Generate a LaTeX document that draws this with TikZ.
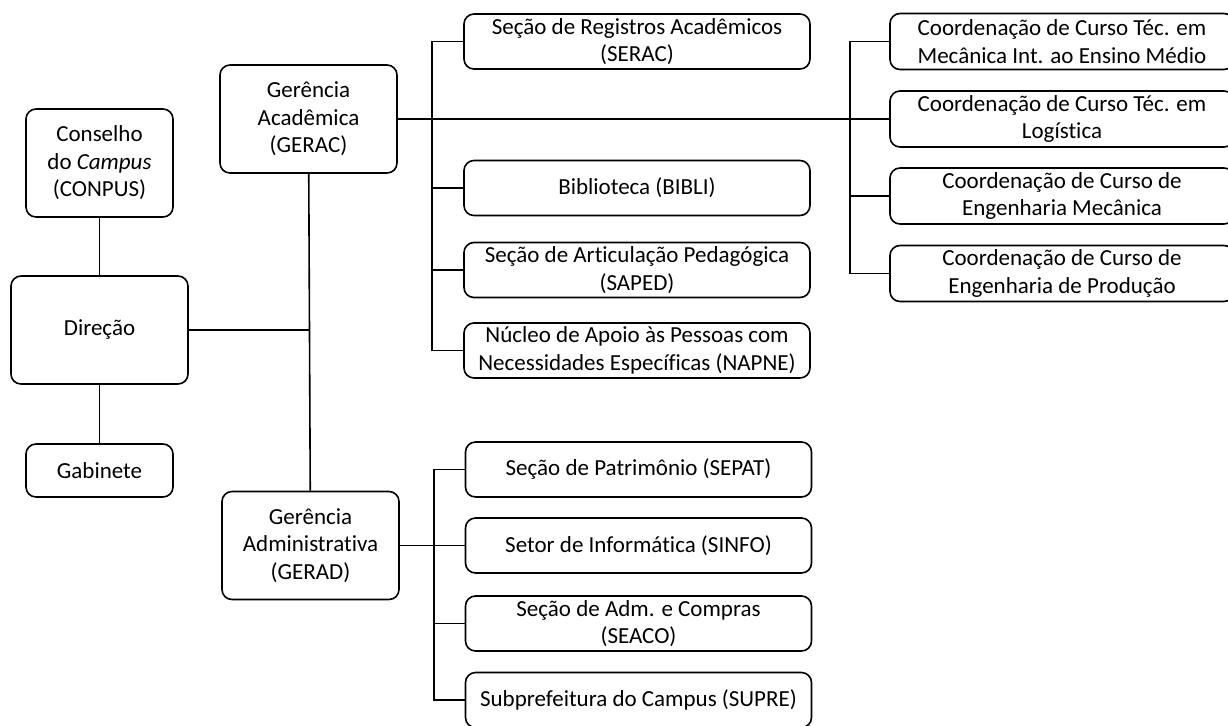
\documentclass[tikz,border=0pt]{standalone}
\usepackage{fontspec}
\setmainfont{Carlito}[Ligatures=NoCommon]

\begin{document}
\begin{tikzpicture}[x=0.5pt,y=-0.5pt,
    unit/.style={draw, rounded corners=5pt, line width=0.8pt, align=center,
      inner sep=1pt, font=\fontsize{11.5}{13.8}\selectfont},
    head/.style={unit, minimum width=88.5pt, minimum height=54pt},
    side/.style={unit, minimum width=73.5pt},
    sect/.style={unit, minimum width=173pt, minimum height=27.5pt},
    coord/.style={unit, minimum width=172pt, minimum height=28pt},
    link/.style={line width=0.8pt}]
    \clip (0,0) rectangle (1228,725);
    \useasboundingbox (0,0) rectangle (1228,725);

    % Direction and its neighbours
    \node [side, minimum height=54pt] (conpus) at (99.5,163) {Conselho\\ do \textit{Campus}\\ (CONPUS)};
    \node [head] (direcao) at (99.5,330) {Direção};
    \node [side, minimum height=26.5pt] (gabinete) at (99.5,470.5) {Gabinete};
    \draw [link] (conpus) -- (direcao);
    \draw [link] (direcao) -- (gabinete);

    % The two managements
    \node [head] (gerac) at (308.5,119) {Gerência\\ Acadêmica\\ (GERAC)};
    \node [head] (gerad) at (310.5,545.5) {Gerência\\ Administrativa\\ (GERAD)};
    \draw [link] (gerac) -- (gerad);
    \draw [link] (direcao.east) -- (direcao.east -| gerac.south);

    % Academic sections
    \coordinate (busA) at (432,0);
    \node [sect] (serac) at (637,41.5) {Seção de Registros Acadêmicos\\ (SERAC)};
    \node [sect] (bibli) at (637,188) {Biblioteca (BIBLI)};
    \node [sect] (saped) at (637,270) {Seção de Articulação Pedagógica\\ (SAPED)};
    \node [sect] (napne) at (637,350.5) {Núcleo de Apoio às Pessoas com\\ Necessidades Específicas (NAPNE)};
    \draw [link] (serac.west) -- (serac.west -| busA) -- (napne.west -| busA) -- (napne.west);
    \draw [link] (bibli.west) -- (bibli.west -| busA);
    \draw [link] (saped.west) -- (saped.west -| busA);

    % Course coordinations
    \coordinate (busC) at (850,0);
    \node [coord] (ctmec) at (1062,41.5) {Coordenação de Curso Téc. em\\ Mecânica Int. ao Ensino Médio};
    \node [coord] (ctlog) at (1062,119) {Coordenação de Curso Téc. em\\ Logística};
    \node [coord] (cemec) at (1062,196) {Coordenação de Curso de\\ Engenharia Mecânica};
    \node [coord] (ceprod) at (1062,273.5) {Coordenação de Curso de\\ Engenharia de Produção};
    \draw [link] (gerac.east) -- (ctlog.west);
    \draw [link] (ctmec.west) -- (ctmec.west -| busC) -- (ceprod.west -| busC) -- (ceprod.west);
    \draw [link] (cemec.west) -- (cemec.west -| busC);

    % Administrative sections
    \coordinate (busD) at (434,0);
    \node [sect] (sepat) at (638.5,469.5) {Seção de Patrimônio (SEPAT)};
    \node [sect] (sinfo) at (638.5,545.5) {Setor de Informática (SINFO)};
    \node [sect] (seaco) at (638.5,623.5) {Seção de Adm. e Compras\\ (SEACO)};
    \node [sect] (supre) at (638.5,700) {Subprefeitura do Campus (SUPRE)};
    \draw [link] (gerad.east) -- (sinfo.west);
    \draw [link] (sepat.west) -- (sepat.west -| busD) -- (supre.west -| busD) -- (supre.west);
    \draw [link] (seaco.west) -- (seaco.west -| busD);
\end{tikzpicture}
\end{document}
